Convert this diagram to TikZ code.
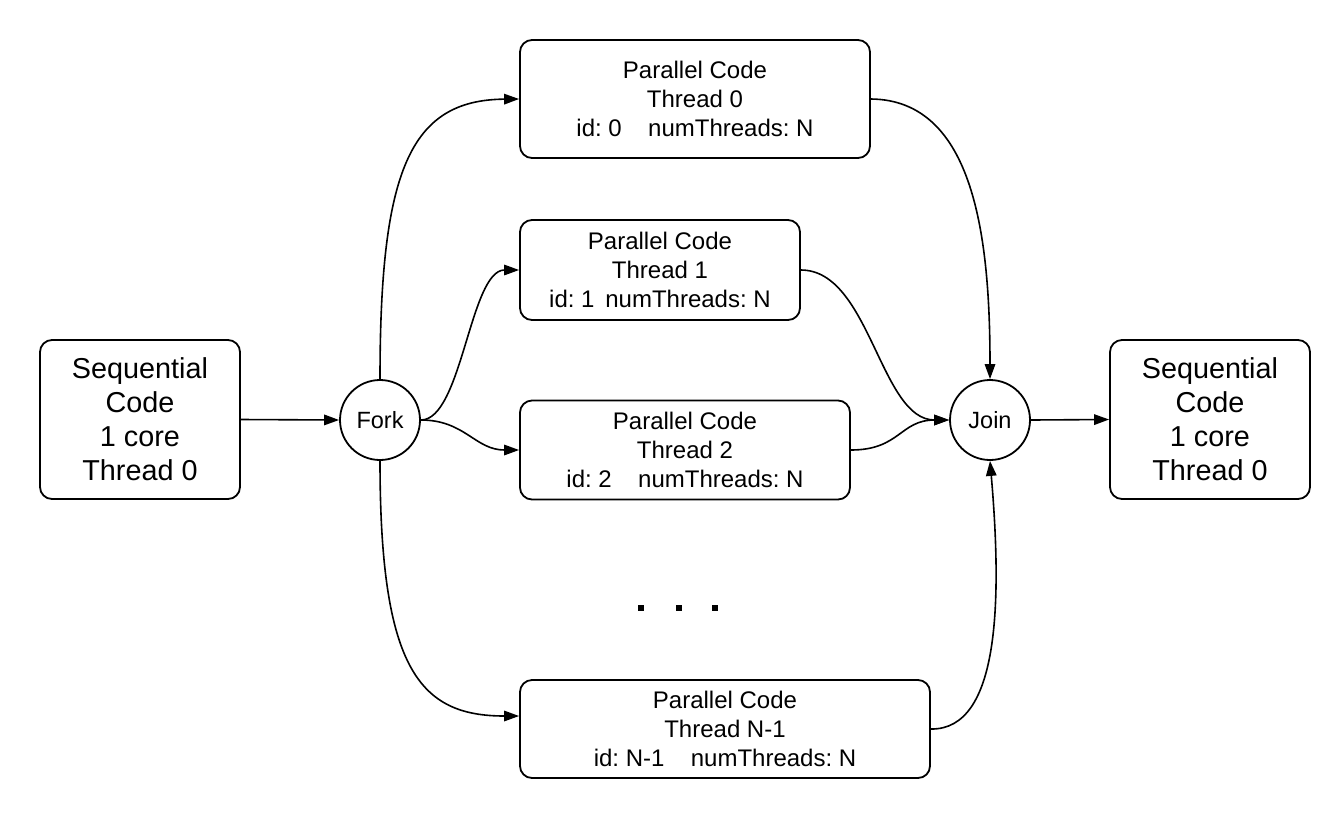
\documentclass[tikz,border=0pt]{standalone}
\usepackage{fontspec}
\setmainfont{Liberation Sans}
\usetikzlibrary{arrows.meta,calc}
\frenchspacing
\begin{document}
\begin{tikzpicture}[x=1pt,y=-1pt,
  box/.style={draw,line width=1.8pt,rounded corners=12pt,align=center,inner sep=0pt,font=\frenchspacing\fontsize{24}{29.3}\selectfont},
  seqbox/.style={box,minimum width=200pt,minimum height=159pt,font=\frenchspacing\fontsize{28.8}{34}\selectfont},
  circ/.style={draw,circle,line width=1.8pt,minimum size=80pt,inner sep=0pt,font=\fontsize{23.5}{26}\selectfont},
  conn/.style={line width=1.6pt,-{Triangle[length=15pt,width=10.5pt]}},
  dot/.style={fill=black}]
\useasboundingbox (0,0) rectangle (1330,820);
\node[seqbox] (s1) at (140,419.5) {Sequential\\Code\\1 core\\Thread 0};
\node[seqbox] (s2) at (1210,419.5) {Sequential\\Code\\1 core\\Thread 0};
\node[circ] (fork) at (380,420) {Fork};
\node[circ] (join) at (990,420) {Join};
\node[box,minimum width=350pt,minimum height=118pt] (b0) at (695,99) {Parallel Code\\Thread 0\\id: 0\hspace{1.1em}numThreads: N};
\node[box,minimum width=280pt,minimum height=100pt] (b1) at (660,270) {Parallel Code\\Thread 1\\id: 1\hspace{0.45em}numThreads: N};
\node[box,minimum width=330pt,minimum height=99pt] (b2) at (685,450) {Parallel Code\\Thread 2\\id: 2\hspace{1.1em}numThreads: N};
\node[box,minimum width=410pt,minimum height=98pt] (bn) at (725,729) {Parallel Code\\Thread N-1\\id: N-1\hspace{1.1em}numThreads: N};
\draw[conn] (s1.east) -- (fork.west);
\draw[conn] (join.east) -- (s2.west);
\draw[conn] (fork.north) .. controls (380,170) and (410,100) .. (b0.west);
\draw[conn] (fork.east) .. controls (462,420) and (470,270) .. (b1.west);
\draw[conn] (fork.east) .. controls (465,420) and (475,450) .. (b2.west);
\draw[conn] (fork.south) .. controls (380,670) and (420,716) .. ([yshift=13pt]bn.west);
\draw[conn] (b0.east) .. controls (975,100) and (990,240) .. (join.north);
\draw[conn] (b1.east) .. controls (870,270) and (880,420) .. (join.west);
\draw[conn] (b2.east) .. controls (900,450) and (900,420) .. (join.west);
\draw[conn] (bn.east) .. controls (1000,730) and (1002,600) .. (join.south);
\fill[dot] (638,605) rectangle (644,611);
\fill[dot] (676,605) rectangle (682,611);
\fill[dot] (712,605) rectangle (718,611);
\end{tikzpicture}
\end{document}
